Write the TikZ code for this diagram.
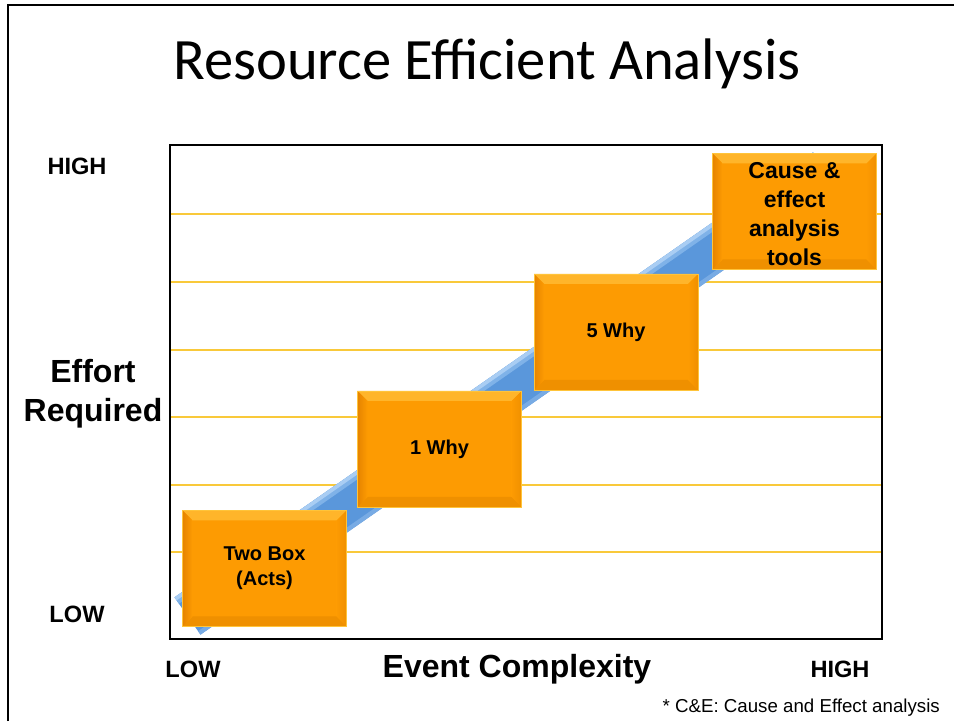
\documentclass[tikz,border=0pt]{standalone}
\usepackage{fontspec}
\setmainfont{Liberation Sans}
\newfontfamily\titlefont{Carlito}
\definecolor{boxmain}{HTML}{FD9B02}
\definecolor{boxtop}{HTML}{FFB52A}
\definecolor{boxleft}{HTML}{E68400}
\definecolor{boxright}{HTML}{F09000}
\definecolor{boxbottom}{HTML}{EF9000}
\definecolor{boxedge}{HTML}{FFC43A}
\definecolor{gridc}{HTML}{F9C93A}
\definecolor{bandlight}{HTML}{A9CDF3}
\definecolor{bandhalf}{HTML}{7FB2E8}
\definecolor{bandmid}{HTML}{5A97DB}
\definecolor{banddark}{HTML}{78ABE4}
\tikzset{
  bevelbox/.style={rectangle, minimum width=164pt, minimum height=116pt, inner sep=0pt,
    fill=boxmain, draw=boxedge, line width=0.7pt, align=center,
    font=\bfseries\fontsize{20}{25}\selectfont,
    path picture={
      \coordinate (bnw) at (path picture bounding box.north west);
      \coordinate (bne) at (path picture bounding box.north east);
      \coordinate (bsw) at (path picture bounding box.south west);
      \coordinate (bse) at (path picture bounding box.south east);
      \fill[boxtop] (bnw) -- (bne) -- ([shift={(-10pt,-10pt)}]bne) -- ([shift={(10pt,-10pt)}]bnw) -- cycle;
      \fill[boxbottom] (bsw) -- (bse) -- ([shift={(-10pt,10pt)}]bse) -- ([shift={(10pt,10pt)}]bsw) -- cycle;
      \shade[left color=boxleft, right color=boxmain] (bnw) -- ([shift={(10pt,-10pt)}]bnw) -- ([shift={(10pt,10pt)}]bsw) -- (bsw) -- cycle;
      \shade[left color=boxmain, right color=boxright] (bne) -- ([shift={(-10pt,-10pt)}]bne) -- ([shift={(-10pt,10pt)}]bse) -- (bse) -- cycle;
    }},
  boxtext/.style={font=\bfseries\fontsize{23}{29}\selectfont, align=center, inner sep=0pt},
  axislabel/.style={font=\bfseries\fontsize{23.6}{28}\selectfont, anchor=base, inner sep=0pt},
  bigaxis/.style={font=\bfseries\fontsize{32}{39}\selectfont, anchor=base, inner sep=0pt, align=center},
  gridline/.style={draw=gridc, line width=1.1pt},
}
\begin{document}
\begin{tikzpicture}[x=1pt,y=1pt]
\useasboundingbox (0,0) rectangle (954,721);
\fill[white] (0,0) rectangle (954,721);
% slide frame
\draw[line width=2pt] (8,0) -- (8,716) -- (954,716);
% title
\node[font=\titlefont\fontsize{58.6}{60}\selectfont, anchor=base, inner sep=0pt] (title) at (487,641) {Resource Efficient Analysis};
% gridlines
\foreach \yy in {507,439,371,304,236,169} {
  \draw[gridline] (171,\yy) -- (881,\yy);
}
% band
\begin{scope}[shift={(187.5,105)}, rotate=34.87]
  \fill[bandmid] (0,-22.7) rectangle (778.3,22.7);
  \fill[bandhalf] (0,15) rectangle (778.3,22.7);
  \fill[bandlight] (0,19) rectangle (778.3,22.7);
  \fill[banddark] (0,-22.7) rectangle (778.3,-18.5);
\end{scope}
% chart frame
\draw[line width=2pt] (170,82) rectangle (882,576);
% boxes
\node[bevelbox] (twobox) at (264.5,152.5) {Two Box\\(Acts)};
\node[bevelbox] (onewhy) at (439.5,272) {1 Why};
\node[bevelbox] (fivewhy) at (616,389) {5 Why};
\node[bevelbox, label={[boxtext, yshift=-3pt]center:Cause \&\\effect\\analysis\\tools}] (cause) at (794.5,509.5) {};
% axis labels
\node[axislabel] (yhigh) at (77,546) {HIGH};
\node[axislabel] (ylow) at (77,98) {LOW};
\node[bigaxis, anchor=center] (ytitle) at (93,327.5) {Effort\\Required};
\node[axislabel] (xlow) at (193,44) {LOW};
\node[bigaxis] (xtitle) at (517,44) {Event Complexity};
\node[axislabel] (xhigh) at (840,44) {HIGH};
\node[font=\fontsize{18.7}{22}\selectfont, anchor=base east, inner sep=0pt] (note) at (940,9) {* C\&E: Cause and Effect analysis};
\end{tikzpicture}
\end{document}
